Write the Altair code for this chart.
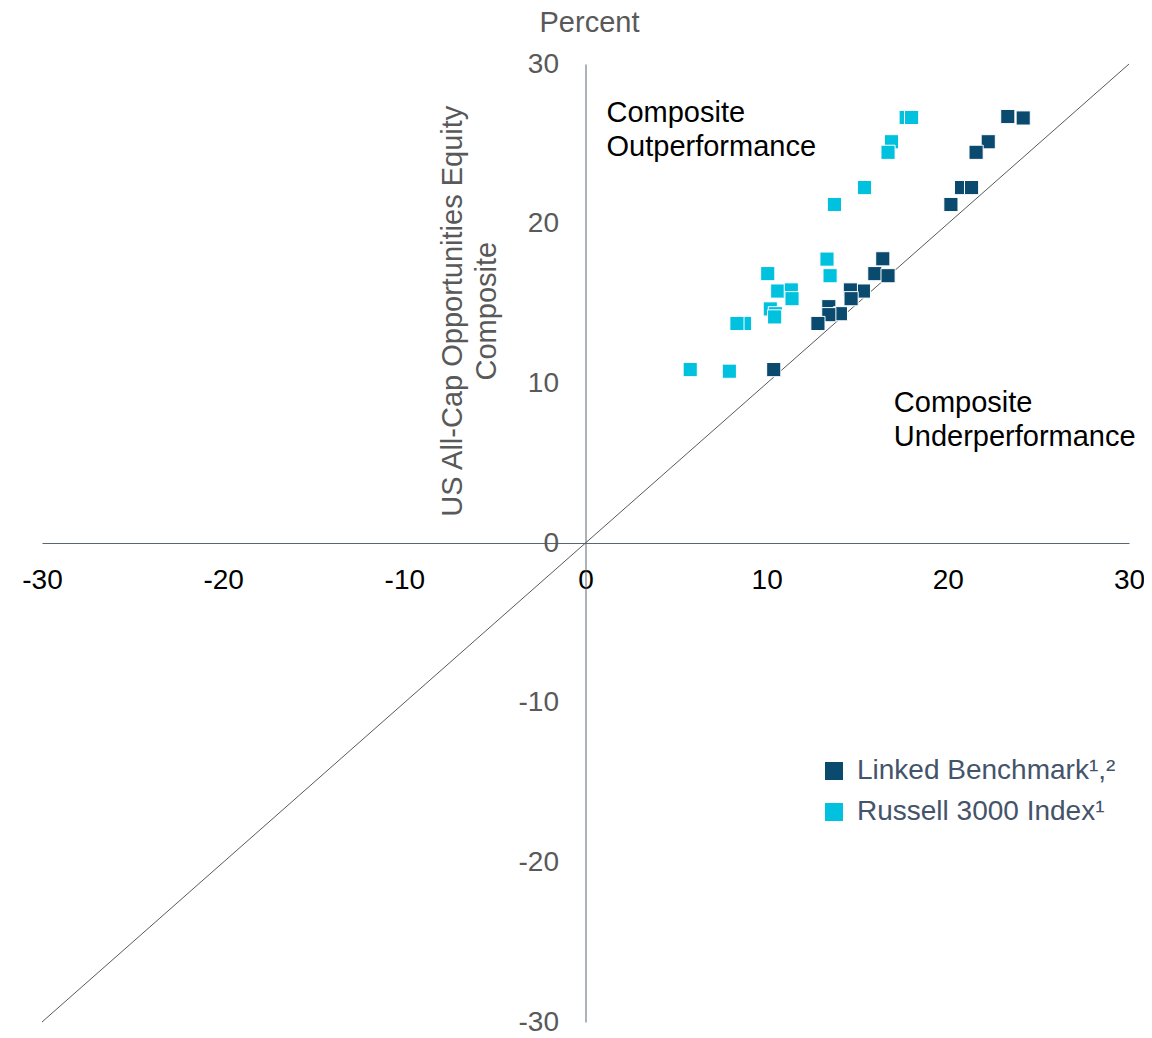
import altair as alt
import pandas as pd

# ---------------- data ----------------
tick_values = [-30, -20, -10, 0, 10, 20, 30]
series_names = ["Linked Benchmark¹,²", "Russell 3000 Index¹"]
series_colors = ["#0a4a6e", "#00c1de"]

# Russell 3000 Index (x) vs Composite (y)
russell_x = [17.7, 18.0, 16.89, 16.70, 15.45, 15.40, 13.74, 13.33, 13.50, 10.06,
             10.61, 11.36, 11.40, 10.20, 10.48, 10.44, 8.78, 8.36, 5.78, 7.94]
russell_y = [26.65, 26.65, 25.13, 24.47, 22.24, 22.26, 21.20, 17.78, 16.74, 16.87,
             15.78, 15.85, 15.30, 14.66, 14.36, 14.16, 13.75, 13.75, 10.86, 10.76]

# Linked Benchmark (x) vs Composite (y)
linked_x = [23.31, 24.16, 22.23, 21.56, 20.76, 21.31, 20.17, 16.41, 15.97, 16.70,
            15.34, 14.62, 14.66, 13.43, 14.07, 13.43, 12.83, 10.39]
linked_y = [26.71, 26.62, 25.13, 24.47, 22.26, 22.26, 21.20, 17.80, 16.87, 16.74,
            15.78, 15.85, 15.30, 14.80, 14.36, 14.30, 13.75, 10.86]

diag_x = [-30, 30]
diag_y = [-30, 30]

note_texts = ["Composite\nOutperformance", "Composite\nUnderperformance"]
note_x = [1.16, 17.02]
note_y = [26.39, 8.2]

percent_label = "Percent"
y_title = "US All-Cap Opportunities Equity\nComposite"

FONT = "Liberation Sans"
W, H = 1087, 958

points = pd.DataFrame({
    "benchmark": russell_x + linked_x,
    "composite": russell_y + linked_y,
    "series": [series_names[1]] * len(russell_x) + [series_names[0]] * len(linked_x),
})

dom = [-30, 30]
xscale = alt.Scale(domain=dom, nice=False, zero=False)
yscale = alt.Scale(domain=dom, nice=False, zero=False)

x_axis = alt.Axis(
    values=tick_values, offset=-H / 2, grid=False, ticks=False,
    domainColor="#5b6770", domainWidth=1,
    labelExpr="'' + datum.value",
    labelFont=FONT, labelFontSize=28, labelColor="#000000",
    labelPadding=23, labelFlush=False, labelOverlap=False, labelBound=False,
    title=None,
)
y_axis = alt.Axis(
    values=tick_values, offset=-W / 2, grid=False, ticks=False,
    domainColor="#5b6770", domainWidth=1,
    labelExpr="'' + datum.value",
    labelFont=FONT, labelFontSize=28, labelColor="#595959",
    labelPadding=27, labelFlush=False, labelOverlap=False, labelBound=False,
    title=None,
)


def X(field):
    return alt.X(field, scale=xscale, axis=x_axis)


def Y(field):
    return alt.Y(field, scale=yscale, axis=y_axis)


diag = alt.Chart(pd.DataFrame({"x": diag_x, "y": diag_y})).mark_line(
    color="#595959", strokeWidth=1
).encode(x=X("x:Q"), y=Y("y:Q"))

pts = alt.Chart(points).mark_square(
    size=200, opacity=1, stroke="white", strokeWidth=1
).encode(
    x=X("benchmark:Q"),
    y=Y("composite:Q"),
    color=alt.Color(
        "series:N",
        scale=alt.Scale(domain=series_names, range=series_colors),
        legend=alt.Legend(
            title=None, orient="none", legendX=778, legendY=693,
            symbolType="square", symbolSize=324, symbolStrokeWidth=0,
            symbolOpacity=1, labelLimit=0,
            labelFont=FONT, labelFontSize=28, labelColor="#44546a",
            labelOffset=9, rowPadding=13, padding=0,
        ),
    ),
    order=alt.Order("series:N", sort="descending"),
)

notes = alt.Chart(pd.DataFrame({"t": note_texts, "x": note_x, "y": note_y})).mark_text(
    font=FONT, fontSize=29, color="#000000", align="left", baseline="alphabetic",
    lineBreak="\n", lineHeight=34,
).encode(x=X("x:Q"), y=Y("y:Q"), text="t:N")

pct = alt.Chart(pd.DataFrame({"t": [percent_label], "x": [0.22], "y": [32.0]})).mark_text(
    font=FONT, fontSize=29, color="#595959", align="center", baseline="alphabetic",
).encode(x=X("x:Q"), y=Y("y:Q"), text="t:N")

ytitle = alt.Chart(pd.DataFrame({"t": [y_title], "x": [-7.29], "y": [14.52]})).mark_text(
    font=FONT, fontSize=29, color="#595959", align="center", baseline="middle",
    angle=270, lineBreak="\n", lineHeight=34,
).encode(x=X("x:Q"), y=Y("y:Q"), text="t:N")

chart = alt.layer(diag, pts, notes, pct, ytitle).properties(
    width=W, height=H,
    autosize=alt.AutoSizeParams(type="none"),
    padding={"left": 34, "top": 56, "right": 15, "bottom": 12},
    background="white",
).configure_view(stroke=None)

chart.save("out.html", embed_options={"renderer": "svg", "actions": False})
